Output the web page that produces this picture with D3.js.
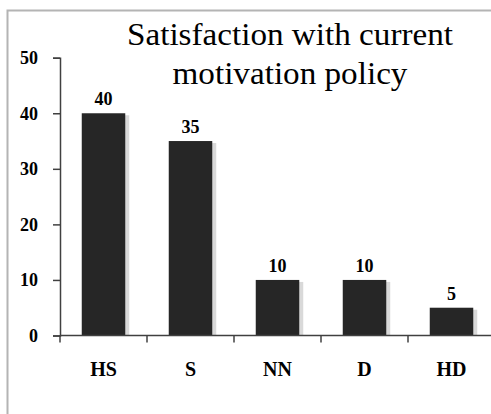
<!DOCTYPE html>
<html>
<head>
<meta charset="utf-8">
<script src="https://cdn.jsdelivr.net/npm/d3@7"></script>
<style>
  body { margin: 0; background: #fff; }
  svg { display: block; }
</style>
</head>
<body>
<svg id="chart" width="491" height="414"></svg>
<script>
// chart data
var categories = ["HS", "S", "NN", "D", "HD"];
var values = [40, 35, 10, 10, 5];
var yTicks = [0, 10, 20, 30, 40, 50];
var titleLines = ["Satisfaction with current", "motivation policy"];

var svg = d3.select("#chart");
var plotLeft = 60, plotRight = 495, plotTop = 57.7, plotBottom = 335.5;
var fontSerif = "'Liberation Serif'";

// outer frame (top & left edges visible, rest is cropped)
svg.append("path")
    .attr("d", "M7.5,414 L7.5,10.5 L491,10.5")
    .attr("fill", "none")
    .attr("stroke", "#b4b4b4")
    .attr("stroke-width", 2);

var x = d3.scaleBand()
    .domain(categories)
    .range([plotLeft, plotRight])
    .paddingInner(0.5)
    .paddingOuter(0.25);

var y = d3.scaleLinear()
    .domain([0, 50])
    .range([plotBottom, plotTop]);

// bar shadows
svg.selectAll("rect.shadow")
    .data(values)
    .enter()
    .append("rect")
    .attr("class", "shadow")
    .attr("x", function(d, i) { return x(categories[i]) + 2; })
    .attr("y", function(d) { return y(d) + 2; })
    .attr("width", x.bandwidth() + 2)
    .attr("height", function(d) { return plotBottom - y(d) - 2; })
    .attr("fill", "#d9d9d9");

svg.selectAll("rect.bar")
    .data(values)
    .enter()
    .append("rect")
    .attr("class", "bar")
    .attr("x", function(d, i) { return x(categories[i]); })
    .attr("y", function(d) { return y(d); })
    .attr("width", x.bandwidth())
    .attr("height", function(d) { return plotBottom - y(d); })
    .attr("fill", "#262626");

// value labels
svg.selectAll("text.val")
    .data(values)
    .enter()
    .append("text")
    .attr("class", "val")
    .text(function(d) { return d; })
    .attr("x", function(d, i) { return x(categories[i]) + x.bandwidth() / 2; })
    .attr("y", function(d) { return y(d) - 8; })
    .style("font-family", fontSerif)
    .style("font-weight", "bold")
    .style("font-size", "18px")
    .attr("fill", "#000")
    .attr("text-anchor", "middle");

// y axis
var yAxis = svg.append("g")
    .attr("transform", "translate(" + plotLeft + ",0)")
    .call(d3.axisLeft(y).tickValues(yTicks).tickSizeInner(7).tickSizeOuter(7).tickPadding(15));
yAxis.select(".domain").attr("stroke", "#404040").attr("stroke-width", 1.5);
yAxis.selectAll(".tick line").attr("stroke", "#404040").attr("stroke-width", 1.5);
yAxis.selectAll("text")
    .style("font-family", fontSerif)
    .style("font-weight", "bold")
    .style("font-size", "18px")
    .attr("fill", "#000");

// x axis with ticks between categories
var xAxisG = svg.append("g").attr("transform", "translate(0," + plotBottom + ")");
xAxisG.append("line")
    .attr("x1", plotLeft).attr("x2", 491)
    .attr("stroke", "#404040").attr("stroke-width", 1.5);
xAxisG.selectAll("line.sep")
    .data(categories)
    .enter()
    .append("line")
    .attr("class", "sep")
    .attr("x1", function(d) { return x(d) - x.bandwidth() / 2; })
    .attr("x2", function(d) { return x(d) - x.bandwidth() / 2; })
    .attr("y1", 0).attr("y2", 7)
    .attr("stroke", "#404040").attr("stroke-width", 1.5);
xAxisG.selectAll("text")
    .data(categories)
    .enter()
    .append("text")
    .text(function(d) { return d; })
    .attr("x", function(d) { return x(d) + x.bandwidth() / 2; })
    .attr("y", 40.5)
    .style("font-family", fontSerif)
    .style("font-weight", "bold")
    .style("font-size", "20px")
    .attr("fill", "#000")
    .attr("text-anchor", "middle");

// title
svg.selectAll("text.title")
    .data(titleLines)
    .enter()
    .append("text")
    .attr("class", "title")
    .text(function(d) { return d; })
    .attr("transform", function(d, i) { return "translate(290," + (45 + i * 38.5) + ") scale(1.07,1)"; })
    .style("font-family", fontSerif)
    .style("font-size", "31px")
    .attr("fill", "#000")
    .attr("text-anchor", "middle");
</script>
</body>
</html>
